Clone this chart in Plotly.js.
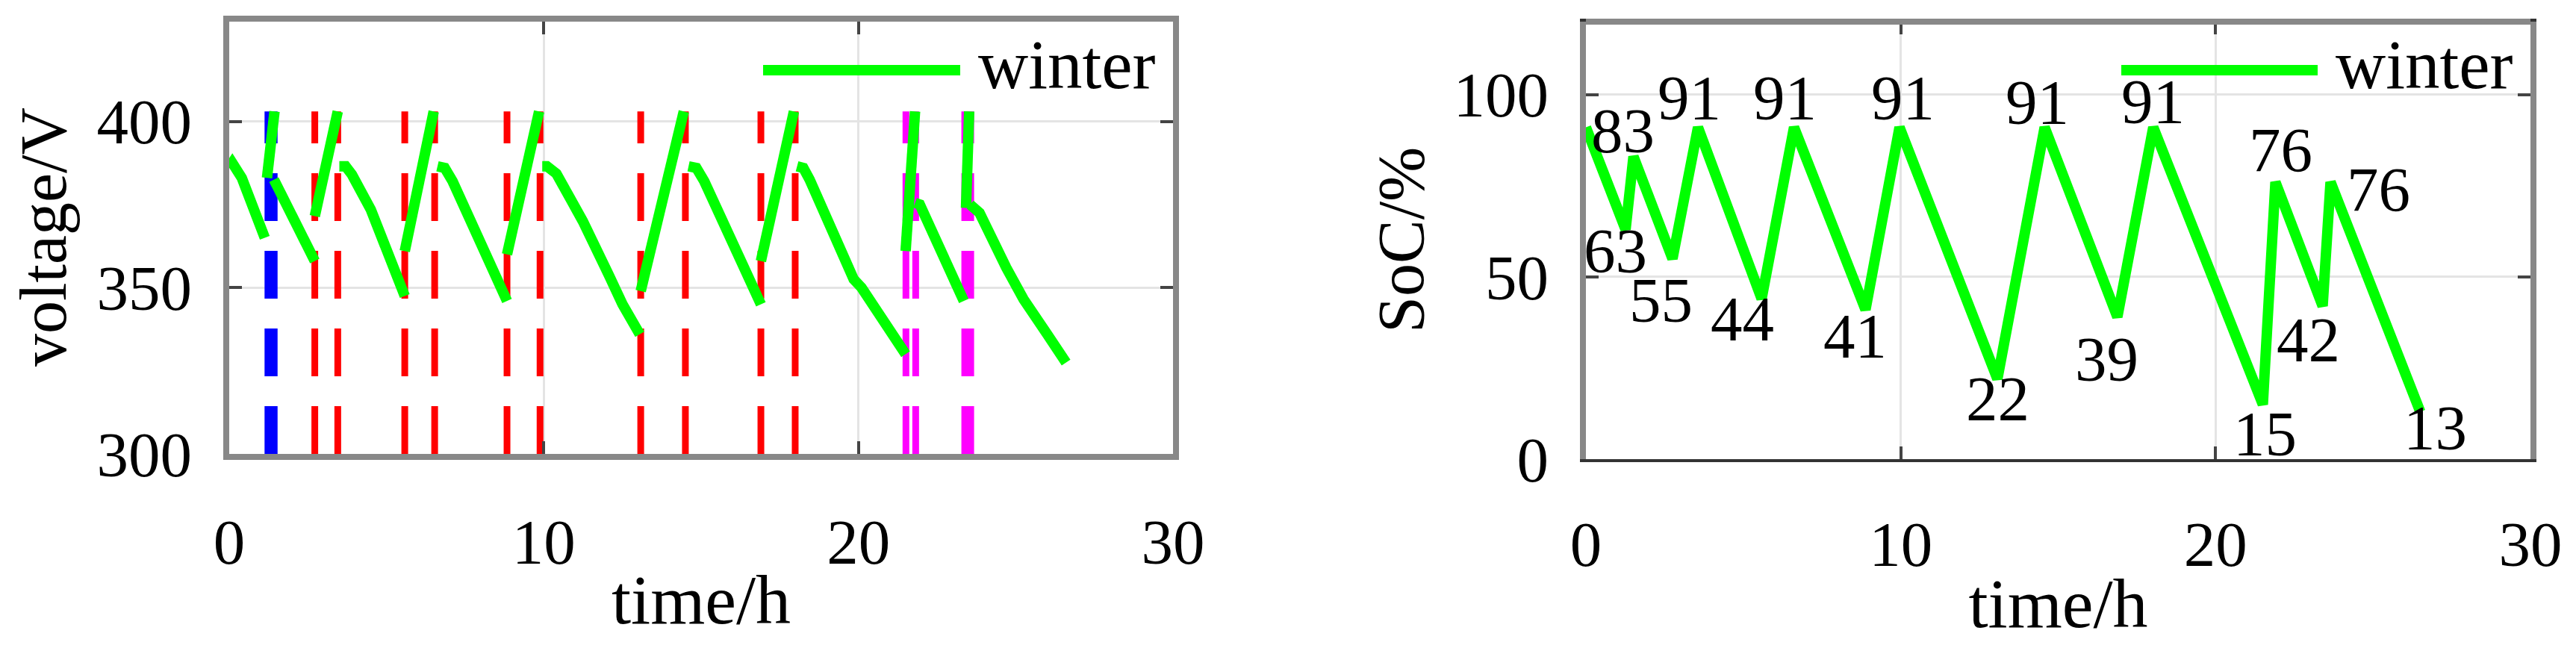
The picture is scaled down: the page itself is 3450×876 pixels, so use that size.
<!DOCTYPE html>
<html>
<head>
<meta charset="utf-8">
<script src="https://cdn.plot.ly/plotly-3.0.1.min.js"></script>
<style>
  html, body { margin: 0; padding: 0; background: #fff; }
  #chart { width: 3450px; height: 876px; }
</style>
</head>
<body>
<div id="chart"></div>
<script>
// hours, shared by both panels
var timeTicks = [0, 10, 20, 30];

// left panel: pack voltage, one run per discharge / charge, split by null
var voltTime = [
  0, 0.1, 0.4, 1.13, null,
  1.2, 1.44, null,
  1.42, 2.0, 2.72, null,
  2.72, 3.45, null,
  3.5, 3.7, 3.9, 4.5, 5.58, null,
  5.58, 6.5, null,
  6.62, 6.85, 7.1, 8.83, null,
  8.83, 9.85, null,
  9.95, 10.1, 10.4, 11.24, 12.07, 12.5, 13.05, null,
  13.08, 14.45, null,
  14.6, 14.85, 15.1, 16.9, null,
  16.9, 17.95, null,
  18.05, 18.25, 18.45, 19.85, 20.1, 21.5, null,
  21.5, 21.8, null,
  21.8, 21.95, 23.35, null,
  23.42, 23.52, null,
  23.55, 23.85, 24.7, 25.25, 26.0, 26.6
];
var voltValue = [
  386, 387.5, 383, 365, null,
  383, 403, null,
  382.5, 371.5, 358, null,
  371.5, 403, null,
  386.5, 386.5, 384, 373.5, 347.5, null,
  361, 403, null,
  386.5, 386, 382, 346, null,
  360, 403, null,
  386.5, 386.5, 384.3, 370, 353.7, 345, 336, null,
  349, 403, null,
  386.5, 386, 382, 345, null,
  358, 403, null,
  386.5, 386, 382.5, 352.5, 350, 330, null,
  361, 403, null,
  375.5, 375, 346, null,
  374, 403, null,
  375, 372.5, 356, 346.5, 336, 327.5
];
var voltTicks = [300, 350, 400];

// charging start/end markers
var blueLines = [1.23, 1.43];
var redLines = [2.72, 3.45, 5.58, 6.53, 8.83, 9.88, 13.08, 14.5, 16.9, 17.99];
var magentaLines = [21.51, 21.82, 23.38, 23.57];
var markerSpan = [300, 403];

// right panel: state of charge turning points
var socTime = [0, 1.26, 1.51, 2.75, 3.56, 5.58, 6.61, 8.88, 9.96, 13.07, 14.57, 16.88, 18.02, 21.5, 21.9, 23.4, 23.65, 26.5];
var socValue = [91, 63, 83, 55, 91, 44, 91, 41, 91, 22, 91, 39, 91, 15, 76, 42, 76, 13];
var socTicks = [0, 50, 100];
// where each value label sits relative to its point, px (dx right, dy down); null = no label
var socLabelShift = [null, [-14, 29], [-14, -35], [-15, 56], [-12, -40], [-26, 27], [-12, -40], [-14, 35],
  [5, -40], [0, 26], [-10, -34], [-14, 56], [0, -35], [3, 39], [7, -43], [-19, 45], [64, 10], [20, 21]];

var serif = 'Liberation Serif';
var green = '#00ff00';

function markerTrace(xs, color, xa, ya) {
  var x = [], y = [];
  xs.forEach(function (t) {
    x.push(t, t, null);
    y.push(markerSpan[0], markerSpan[1], null);
  });
  return {
    x: x, y: y, xaxis: xa, yaxis: ya, mode: 'lines', hoverinfo: 'skip', showlegend: false,
    line: {color: color, width: 9, dash: '64px,40px'}
  };
}

var data = [
  markerTrace(blueLines, '#0000ff', 'x', 'y'),
  markerTrace(redLines, '#ff0000', 'x', 'y'),
  markerTrace(magentaLines, '#ff00ff', 'x', 'y'),
  {
    x: voltTime, y: voltValue, xaxis: 'x', yaxis: 'y', name: 'winter',
    mode: 'lines', connectgaps: false, line: {color: green, width: 14}, showlegend: false
  },
  {
    x: socTime, y: socValue, xaxis: 'x2', yaxis: 'y2', name: 'winter',
    mode: 'lines', line: {color: green, width: 14}, showlegend: false
  }
];

function xAxis(dom, anchor) {
  return {
    domain: dom, anchor: anchor, range: [0, 30], tickvals: timeTicks,
    showgrid: true, gridcolor: '#e4e4e4', gridwidth: 3, zeroline: false,
    showline: true, linecolor: '#888', linewidth: 8, mirror: 'ticks',
    ticks: 'inside', ticklen: 17, tickwidth: 4, tickcolor: '#444',
    tickfont: {family: serif, size: 85, color: '#000'}, ticklabelstandoff: 37,
    title: {text: 'time/h', font: {family: serif, size: 94, color: '#000'}, standoff: 0},
    automargin: false
  };
}
function yAxis(dom, anchor, range, ticks) {
  return {
    domain: dom, anchor: anchor, range: range, tickvals: ticks,
    showgrid: true, gridcolor: '#e4e4e4', gridwidth: 3, zeroline: false,
    showline: true, linecolor: '#888', linewidth: 8, mirror: 'ticks',
    ticks: 'inside', ticklen: 17, tickwidth: 4, tickcolor: '#444',
    tickfont: {family: serif, size: 85, color: '#000'}, ticklabelstandoff: 25,
    automargin: false
  };
}

var annotations = [];
socValue.forEach(function (v, i) {
  var s = socLabelShift[i];
  if (!s) return;
  annotations.push({
    x: socTime[i], y: v, xref: 'x2', yref: 'y2', text: String(v), showarrow: false,
    xshift: s[0], yshift: -s[1], xanchor: 'center', yanchor: 'middle',
    font: {family: serif, size: 85, color: '#000'}
  });
});
// y titles sit further out than plotly's own title placement allows
[['voltage/V', 58, 318], ['SoC/%', 1876, 322]].forEach(function (p) {
  annotations.push({
    x: p[1] / 3450, y: 1 - p[2] / 876, xref: 'paper', yref: 'paper', text: p[0],
    showarrow: false, textangle: -90, xanchor: 'center', yanchor: 'middle',
    font: {family: serif, size: 88, color: '#000'}
  });
});
// legends: long green sample line + label, top right of each panel
[[1022, 1286, 1308], [2841, 3104, 3126]].forEach(function (p) {
  annotations.push({
    x: p[2] / 3450, y: 1 - 87 / 876, xref: 'paper', yref: 'paper', text: 'winter',
    showarrow: false, xanchor: 'left', yanchor: 'middle',
    font: {family: serif, size: 93, color: '#000'}
  });
});
var shapes = [
  {type: 'line', xref: 'paper', yref: 'paper', x0: 1022 / 3450, x1: 1286 / 3450, y0: 1 - 94 / 876, y1: 1 - 94 / 876,
   line: {color: green, width: 14}},
  {type: 'line', xref: 'paper', yref: 'paper', x0: 2841 / 3450, x1: 3104 / 3450, y0: 1 - 94 / 876, y1: 1 - 94 / 876,
   line: {color: green, width: 14}},
  // top edge of the right frame stays grey while its bottom edge is dark
  {type: 'line', xref: 'x2 domain', yref: 'y2 domain', x0: 0, x1: 1, y0: 1, y1: 1,
   line: {color: '#888', width: 8}, layer: 'above'}
];

var xa2 = xAxis([2124 / 3450, 3389 / 3450], 'y2');
xa2.linecolor = '#333';
xa2.linewidth = 4;

var layout = {
  width: 3450, height: 876,
  margin: {l: 0, r: 0, t: 0, b: 0},
  paper_bgcolor: '#fff', plot_bgcolor: '#fff',
  font: {family: serif},
  showlegend: false,
  xaxis: xAxis([307 / 3450, 1571 / 3450], 'y'),
  yaxis: yAxis([1 - 608 / 876, 1 - 29 / 876], 'x', [300, 430], voltTicks),
  xaxis2: xa2,
  yaxis2: yAxis([1 - 615 / 876, 1 - 29 / 876], 'x2', [0, 120], socTicks),
  annotations: annotations,
  shapes: shapes
};

Plotly.newPlot('chart', data, layout, {staticPlot: true, displayModeBar: false});
</script>
</body>
</html>
